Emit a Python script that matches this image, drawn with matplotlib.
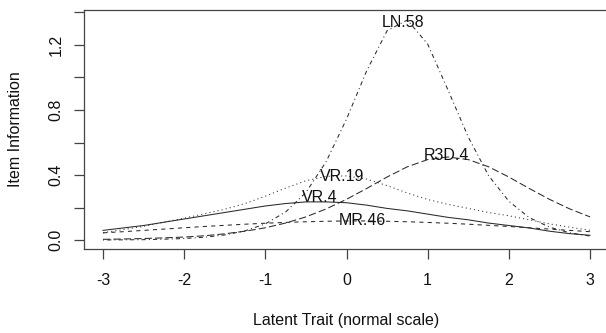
#!/usr/bin/env python3
"""Item information curves for five items (R base-graphics look)."""

import matplotlib
matplotlib.use('Agg')
import matplotlib.pyplot as plt

plt.rcParams['font.family'] = ['Liberation Sans', 'DejaVu Sans']

theta = [-3.0, -2.75, -2.5, -2.25, -2.0, -1.75, -1.5, -1.25, -1.0, -0.75, -0.5, -0.25,
         0.0, 0.25, 0.5, 0.75, 1.0, 1.25, 1.5, 1.75, 2.0, 2.25, 2.5, 2.75, 3.0]

items = ['LN.58', 'R3D.4', 'VR.19', 'VR.4', 'MR.46']

info_ln58 = [0.001, 0.002, 0.003, 0.006, 0.010, 0.018, 0.032, 0.057, 0.100, 0.173, 0.293, 0.483,
             0.744, 1.042, 1.287, 1.353, 1.205, 0.923, 0.634, 0.397, 0.239, 0.139, 0.080, 0.045, 0.025]
info_r3d4 = [0.005, 0.007, 0.010, 0.014, 0.019, 0.027, 0.039, 0.055, 0.076, 0.105, 0.143, 0.192,
             0.251, 0.318, 0.388, 0.451, 0.495, 0.511, 0.495, 0.451, 0.388, 0.318, 0.251, 0.192, 0.143]
info_vr19 = [0.045, 0.065, 0.085, 0.110, 0.135, 0.162, 0.190, 0.225, 0.270, 0.320, 0.365, 0.392,
             0.395, 0.375, 0.335, 0.290, 0.250, 0.220, 0.195, 0.170, 0.150, 0.125, 0.100, 0.080, 0.060]
info_vr4 = [0.060, 0.075, 0.090, 0.110, 0.130, 0.150, 0.170, 0.190, 0.210, 0.225, 0.235, 0.235,
            0.230, 0.215, 0.195, 0.180, 0.160, 0.140, 0.125, 0.105, 0.090, 0.075, 0.055, 0.040, 0.030]
info_mr46 = [0.045, 0.052, 0.060, 0.068, 0.076, 0.084, 0.091, 0.098, 0.104, 0.109, 0.113, 0.116,
             0.118, 0.118, 0.116, 0.113, 0.109, 0.104, 0.098, 0.091, 0.084, 0.076, 0.068, 0.060, 0.052]

# where each item name sits on the plot
label_theta = [0.70, 1.23, -0.05, -0.33, 0.20]
label_info = [1.34, 0.52, 0.39, 0.26, 0.12]

x_ticks = [-3, -2, -1, 0, 1, 2, 3]
y_ticks = [0.0, 0.2, 0.4, 0.6, 0.8, 1.0, 1.2, 1.4]
y_ticklabels = ['0.0', '', '0.4', '', '0.8', '', '1.2', '']


def main():
    W, H = 606, 333
    fig = plt.figure(figsize=(W / 100, H / 100), dpi=100)
    # plot region runs past the right edge, as in the cropped original
    left, right, top, bottom = 83.5, 609.5, 10, 249
    ax = fig.add_axes([left / W, 1 - bottom / H, (right - left) / W, (bottom - top) / H])

    series = [info_ln58, info_r3d4, info_vr19, info_vr4, info_mr46]
    dashes = [(1, 3, 4, 3), (7, 3), (1, 3), None, (4, 4)]
    for vals, d in zip(series, dashes):
        line, = ax.plot(theta, vals, color='#2a2a2a', lw=0.75)
        if d is not None:
            line.set_dashes(d)

    for name, tx, ty in zip(items, label_theta, label_info):
        ax.text(tx, ty, name, ha='center', va='center', fontsize=11.5, color='#111111')

    ax.set_xlim(-3.24, 3.24)
    ax.set_ylim(-0.0544, 1.4144)
    ax.set_xticks(x_ticks)
    ax.set_xticklabels([str(v) for v in x_ticks])
    ax.set_yticks(y_ticks)
    ax.set_yticklabels(y_ticklabels, rotation=90, va='center')

    for s in ['left', 'top', 'bottom']:
        ax.spines[s].set_color('#444444')
        ax.spines[s].set_linewidth(0.9)
    ax.spines['right'].set_visible(False)
    ax.tick_params(axis='both', direction='out', length=7.5, width=0.9, color='#444444',
                   labelsize=11.5, labelcolor='#111111')
    ax.tick_params(axis='x', pad=10)
    ax.tick_params(axis='y', pad=7)

    fig.text(346.5 / W, 1 - 320 / H, 'Latent Trait (normal scale)', ha='center', va='center',
             fontsize=11.5, color='#111111')
    fig.text(16 / W, 1 - 129.5 / H, 'Item Information', ha='center', va='center',
             rotation=90, fontsize=11.5, color='#111111')

    fig.savefig('out.png', dpi=100)
    plt.close(fig)
    print('Saved out.png')


if __name__ == '__main__':
    main()
